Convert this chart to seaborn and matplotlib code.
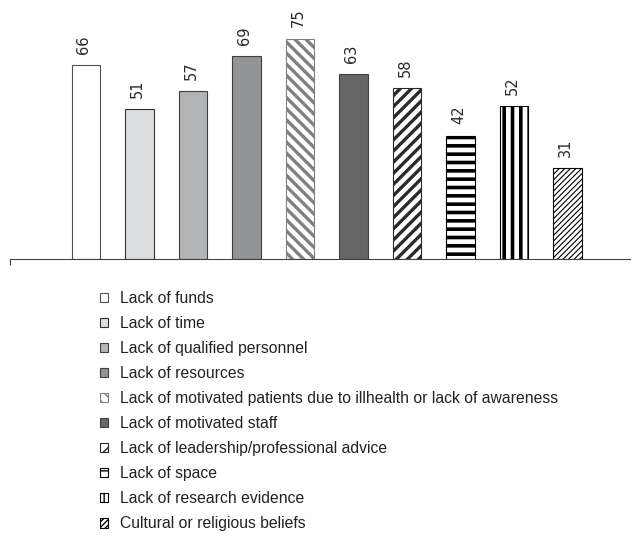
import matplotlib
matplotlib.use("Agg")
import matplotlib.pyplot as plt
from matplotlib.patches import Patch
import seaborn as sns
import pandas as pd

# Barriers and the share of respondents citing each one
categories = [
    "Lack of funds",
    "Lack of time",
    "Lack of qualified personnel",
    "Lack of resources",
    "Lack of motivated patients due to illhealth or lack of awareness",
    "Lack of motivated staff",
    "Lack of leadership/professional advice",
    "Lack of space",
    "Lack of research evidence",
    "Cultural or religious beliefs",
]
values = [66, 51, 57, 69, 75, 63, 58, 42, 52, 31]

# Fill, hatch, hatch/edge colour and hatch line width for each bar
fills = ["#ffffff", "#dcdddf", "#b3b4b6", "#939496", "#ffffff",
         "#666666", "#ffffff", "#ffffff", "#ffffff", "#ffffff"]
hatches = [None, None, None, None, "\\\\\\", None, "///", "--", "||", "//////"]
edges = ["#505050", "#303030", "#404040", "#404040", "#808080",
         "#404040", "#2a2a2a", "#000000", "#000000", "#000000"]
hatch_lw = [1, 1, 1, 1, 2.4, 1, 2.4, 2.6, 2.6, 0.8]

sns.set_style("white")
plt.rcParams["font.family"] = ["Liberation Sans", "DejaVu Sans"]

df = pd.DataFrame({"barrier": categories, "pct": values})

fig = plt.figure(figsize=(6.36, 5.42), dpi=100)
ax = fig.add_axes([10 / 636, 283 / 542, 620 / 636, 259 / 542])

sns.barplot(data=df, x="barrier", y="pct", hue="barrier", order=categories,
            hue_order=categories, palette=fills, width=0.53, legend=False,
            saturation=1, ax=ax)

bars = sorted(ax.patches, key=lambda p: p.get_x())
for p, fc, h, ec, hl in zip(bars, fills, hatches, edges, hatch_lw):
    p.set_facecolor(fc)
    p.set_edgecolor(ec)
    p.set_linewidth(0.8)
    if h:
        p.set_hatch(h)
        if hasattr(p, "set_hatch_linewidth"):
            p.set_hatch_linewidth(hl)

for p, v in zip(bars, values):
    ax.annotate(f"{v}", (p.get_x() + p.get_width() / 2, v),
                xytext=(-1.5, 8), textcoords="offset points",
                rotation=90, ha="center", va="bottom", fontsize=10.5,
                family="DejaVu Sans", color="#2a2a2a")

ax.set_ylim(0, 88.1)
left = -1.42
ax.set_xlim(left, 10.17)
ax.set_xticks([left])
ax.set_xticklabels([""])
ax.tick_params(axis="x", direction="out", length=4.5, width=0.8,
               color="#404040", bottom=True)
ax.set_yticks([])
ax.set_xlabel("")
ax.set_ylabel("")
for s in ["top", "right", "left"]:
    ax.spines[s].set_visible(False)
ax.spines["bottom"].set_color("#404040")
ax.spines["bottom"].set_linewidth(0.8)

handles = []
for fc, h, ec, hl in zip(fills, hatches, edges, hatch_lw):
    hp = Patch(facecolor=fc, edgecolor=ec, hatch=h, linewidth=0.8)
    if h and hasattr(hp, "set_hatch_linewidth"):
        hp.set_hatch_linewidth(min(hl, 1.5))
    handles.append(hp)

fig.legend(handles, categories, loc="upper left",
           bbox_to_anchor=(100 / 636, 1 - 291 / 542), frameon=False,
           fontsize=11.3, handlelength=0.54, handleheight=0.54,
           handletextpad=0.72, labelspacing=0.64, borderpad=0,
           borderaxespad=0, labelcolor="#222222")

fig.savefig("out.png", dpi=100)
